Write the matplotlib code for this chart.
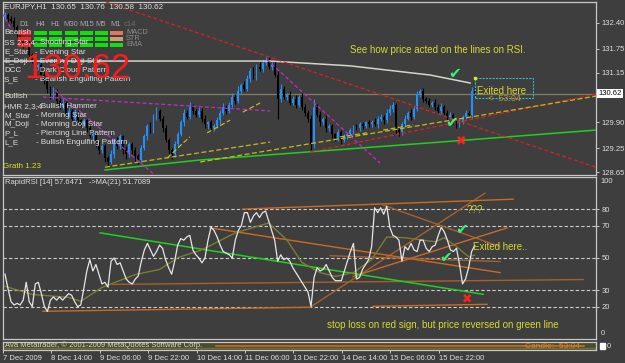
import numpy as np
import matplotlib
matplotlib.use("Agg")
import matplotlib.pyplot as plt
from matplotlib.patches import Rectangle
from matplotlib.transforms import blended_transform_factory

plt.rcParams.update({
    "font.family": ["Liberation Sans", "DejaVu Sans"],
    "font.size": 5.5,
})

# ------------------------------------------------------------
# Data
# ------------------------------------------------------------
first_open = 132.55
closes = np.array([
    132.60, 132.50, 132.45, 132.30, 132.15, 132.00, 131.85, 131.90, 131.60, 131.45,
    131.30, 131.35, 131.10, 130.95, 130.75, 130.55, 130.70, 130.45, 130.30, 130.40,
    130.10, 130.20, 130.00, 130.15, 129.95, 129.85, 129.95, 129.75, 129.55, 129.60,
    129.35, 129.20, 129.30, 129.00, 128.90, 129.10, 129.45, 129.30, 129.55, 129.20,
    129.10, 129.35, 129.20, 129.05, 128.95, 129.25, 129.55, 129.80, 129.70, 130.05,
    130.20, 130.00, 129.75, 129.45, 129.20, 129.10, 129.35, 129.60, 129.90, 130.15,
    130.05, 130.30, 130.20, 130.10, 130.20, 130.00, 129.85, 129.90, 129.75, 129.80,
    129.95, 130.15, 130.30, 130.20, 130.35, 130.55, 130.45, 130.70, 130.85, 130.75,
    131.00, 131.20, 131.05, 131.30, 131.25, 131.40, 131.45, 131.30, 131.35, 131.10,
    130.50, 130.75, 130.55, 130.60, 130.40, 130.50, 130.35, 130.55, 130.30, 130.15,
    130.00, 129.35, 130.30, 130.10, 129.90, 130.00, 129.75, 129.80, 129.60, 129.50,
    129.65, 129.45, 129.55, 129.60, 129.70, 129.80, 129.75, 129.85, 129.80, 129.90,
    129.85, 129.90, 129.85, 130.00, 130.05, 129.95, 130.15, 130.25, 130.35, 129.70,
    129.65, 129.85, 130.00, 130.15, 130.05, 130.25, 130.60, 130.70, 130.50, 130.45,
    130.35, 130.40, 130.30, 130.20, 130.30, 130.15, 130.05, 130.10, 129.95, 129.85,
    129.90, 130.05, 130.15, 130.10, 130.70, 130.62,
])
# wick lengths in pips (0.01)
wick_up = np.array([
    8, 5, 6, 10, 4, 7, 5, 12, 6, 5,
    8, 4, 6, 9, 5, 7, 10, 5, 6, 12,
    4, 8, 5, 9, 6, 4, 7, 5, 10, 6,
    4, 8, 6, 5, 7, 12, 6, 9, 5, 4,
    10, 7, 5, 8, 6, 9, 7, 5, 10, 6,
    8, 4, 6, 9, 5, 7, 8, 5, 6, 10,
    7, 12, 6, 5, 8, 6, 9, 4, 7, 5,
    8, 6, 10, 5, 7, 9, 6, 12, 5, 8,
    10, 6, 9, 7, 12, 6, 8, 10, 6, 9,
    8, 12, 7, 5, 9, 6, 8, 5, 10, 6,
    7, 8, 20, 6, 9, 5, 8, 7, 6, 4,
    8, 5, 7, 6, 5, 4, 6, 5, 7, 4,
    6, 5, 12, 6, 7, 5, 8, 10, 6, 4,
    5, 6, 8, 5, 9, 7, 8, 5, 6, 4,
    7, 5, 9, 6, 8, 5, 7, 6, 4, 6,
    8, 5, 6, 4, 9, 6,
])
wick_dn = np.array([
    6, 9, 5, 7, 10, 6, 8, 5, 12, 7,
    5, 9, 6, 8, 10, 6, 5, 9, 7, 6,
    12, 6, 8, 5, 9, 7, 6, 8, 5, 10,
    7, 9, 6, 10, 12, 5, 8, 6, 7, 10,
    12, 6, 8, 15, 9, 6, 5, 8, 6, 7,
    9, 6, 8, 5, 10, 12, 6, 7, 5, 8,
    6, 5, 9, 7, 6, 10, 8, 12, 6, 7,
    5, 8, 6, 9, 7, 5, 8, 6, 9, 7,
    6, 8, 5, 9, 6, 8, 5, 7, 9, 6,
    50, 8, 6, 9, 7, 6, 8, 7, 9, 8,
    10, 15, 8, 6, 9, 7, 10, 6, 8, 7,
    6, 9, 5, 7, 6, 8, 5, 7, 6, 5,
    7, 6, 5, 8, 6, 9, 7, 5, 8, 10,
    8, 6, 7, 5, 9, 6, 7, 5, 8, 6,
    7, 5, 8, 6, 9, 7, 8, 6, 9, 8,
    6, 5, 7, 6, 8, 5,
])

rsi = np.array([
    40, 31, 23, 21, 22, 21, 24, 35, 23, 20,
    34, 35, 28, 20, 17, 24, 26, 24, 26, 24,
    26, 28, 27, 23, 20, 21, 31, 42, 49, 42,
    46, 40, 34, 35, 32, 48, 50, 46, 47, 42,
    37, 35, 34, 37, 39, 48, 55, 59, 55, 51,
    54, 58, 56, 49, 44, 40, 48, 58, 62, 61,
    63, 64, 55, 52, 50, 47, 50, 61, 69, 67,
    63, 58, 54, 53, 52, 50, 61, 67, 70, 78,
    78, 72, 76, 78, 75, 78, 79, 73, 67, 61,
    48, 52, 49, 50, 48, 44, 41, 38, 35, 32,
    29, 20, 38, 44, 42, 43, 46, 42, 38, 36,
    36, 36, 42, 48, 54, 59, 37, 38, 43, 46,
    49, 57, 81, 78, 81, 77, 82, 69, 64, 63,
    61, 48, 57, 55, 59, 55, 54, 61, 61, 56,
    54, 57, 58, 64, 69, 66, 61, 55, 54, 56,
    46, 34, 37, 44, 54, 57.6471,
])
ma_bar = [0, 9, 21, 25, 32, 43, 51, 57, 65, 76, 87, 93, 98, 104, 109, 115,
          121, 126, 132, 142, 145, 149, 153, 155]
ma_val = [32.5, 27.5, 25.7, 23.3, 31.8, 39.8, 42.9, 50.2, 55.1, 65.5, 71.6, 61.2,
          47.2, 41.0, 38.6, 41.0, 49.0, 63.0, 62.5, 60.0, 62.5, 57.0, 50.8, 51.7089]

rsi_levels = [80, 70, 50, 30, 20]
price_ticks = [132.40, 131.75, 131.15, 129.90, 129.25, 128.65]
last_price = 130.62

time_tick_bars = [-1, 15, 31, 47, 63, 79, 95, 111, 127, 143]
time_tick_labels = ["7 Dec 2009", "8 Dec 14:00", "9 Dec 06:00", "9 Dec 22:00",
                    "10 Dec 14:00", "11 Dec 06:00", "13 Dec 22:00", "14 Dec 14:00",
                    "15 Dec 06:00", "15 Dec 22:00"]

# trend lines on price chart: (bars, prices)
price_ma_bar = [-1.65, 87.5, 113.9, 140.3, 153.5]
price_ma_val = [131.44, 131.44, 131.32, 131.09, 130.89]
red_lines = [([31.4, 195.0], [132.97, 128.78]),
             ([100.7, 195.0], [129.16, 130.61])]
yellow_lines = [([33.0, 87.5], [128.78, 129.41]),
                ([64.4, 195.0], [128.91, 130.56]),
                ([53.5, 61.0], [129.01, 129.54]),
                ([66.7, 74.3], [129.64, 129.96]),
                ([78.5, 84.2], [130.16, 130.39]),
                ([110.6, 119.5], [129.54, 129.64]),
                ([124.8, 134.7], [129.71, 129.84])]
magenta_lines = [([12.5, 87.5], [130.54, 130.19]),
                 ([16.5, 49.5], [130.71, 128.58]),
                 ([86.5, 123.8], [131.47, 128.88]),
                 ([-1.0, 2.3], [132.64, 132.22])]
green_price_bar = [33.0, 64.4, 140.3, 195.0]
green_price_val = [128.71, 128.96, 129.39, 129.71]

# trend lines on RSI
rsi_green = ([31.4, 157.8], [65.5, 27.6])
rsi_orange = [([12.5, 100.7], [17.1, 19.6]),
              ([100.7, 158.4], [19.6, 90.0]),
              ([121.5, 159.1], [20.2, 21.4]),
              ([35.6, 190.8], [33.7, 36.7]),
              ([78.5, 167.7], [80.2, 86.3]),
              ([124.8, 163.4], [82.7, 57.0]),
              ([67.7, 163.4], [68.6, 41.0]),
              ([107.3, 163.4], [51.4, 47.8]),
              ([114.9, 165.7], [38.6, 68.6])]

bearish_codes = ["SS 2,3,4", "E_Star", "E_Doji", "DCC", "S_E"]
bearish_names = ["- Shooting Star", "- Evening Star", "- Evening Doji Star",
                 "- Dark Cloud Pattern", "- Bearish Engulfing Pattern"]
bullish_codes = ["HMR 2,3,4", "M_Star", "M_Doji", "P_L", "L_E"]
bullish_names = ["- Bullish Hammer", "- Morning Star", "- Morning Doji Star",
                 "- Piercing Line Pattern", "- Bullish Engulfing Pattern"]
timeframes = ["D1", "H4", "H1", "M30", "M15", "M5", "M1"]
signal_rows = ["MACD", "STR", "EMA"]
signal_colors = [
    ["#ff2020", "#10e010", "#10e010", "#10e010", "#10e010", "#10e010", "#e07858"],
    ["#ff2020", "#10e010", "#10e010", "#10e010", "#10e010", "#10e010", "#c8a074"],
    ["#ff2020", "#10e010", "#10e010", "#10e010", "#10e010", "#10e010", "#10e010"],
]

# ------------------------------------------------------------
# Colors
# ------------------------------------------------------------
BG = "#3e3e3e"
FRAME = "#c8c8c8"
TXT = "#dedede"
YEL = "#d8d834"
UP = "#1e90ff"
DN = "#000000"
ORANGE = "#cc6a22"
SYM = ["DejaVu Sans"]

# ------------------------------------------------------------
# Layout (pixel boxes)
# ------------------------------------------------------------
W, H = 625, 363
fig = plt.figure(figsize=(W / 100, H / 100), dpi=100, facecolor=BG)


def px_axes(left, top, right, bottom):
    ax = fig.add_axes([left / W, 1 - bottom / H, (right - left) / W, (bottom - top) / H])
    ax.set_facecolor(BG)
    for s in ax.spines.values():
        s.set_color(FRAME)
        s.set_linewidth(0.9)
    return ax


xlim = (-0.66, 195.05)
ax_p = px_axes(3, 2, 596, 175)
ax_r = px_axes(3, 177, 596, 339)
ax_s = px_axes(3, 342, 596, 350)
for ax in (ax_p, ax_r, ax_s):
    ax.set_xlim(*xlim)
    ax.tick_params(axis="x", bottom=False, labelbottom=False)
    ax.tick_params(axis="y", left=False, labelleft=False)

# ------------------------------------------------------------
# Price panel
# ------------------------------------------------------------
bars = np.arange(len(closes))
opens = np.concatenate([[first_open], closes[:-1]])
highs = np.maximum(opens, closes) + wick_up / 100
lows = np.minimum(opens, closes) - wick_dn / 100
colors = np.where(closes >= opens, UP, DN)

ax_p.vlines(bars, lows, highs, colors=colors, linewidth=0.8, zorder=2)
body = np.maximum(np.abs(closes - opens), 0.012)
ax_p.bar(bars, body, bottom=np.minimum(opens, closes), width=0.62,
         color=colors, linewidth=0, zorder=2)

ax_p.set_ylim(128.584, 132.92)
ax_p.axhline(last_price, color="#7e7e60", linewidth=0.9, zorder=1)
ax_p.plot(price_ma_bar, price_ma_val, color="#d4d4cc", linewidth=1.1, zorder=3)
ax_p.plot(green_price_bar, green_price_val, color="#20d020", linewidth=1.1, zorder=3)
for xs, ys in red_lines:
    ax_p.plot(xs, ys, color="#e02020", linewidth=0.9, linestyle=(0, (3, 2)), zorder=3)
for xs, ys in yellow_lines:
    ax_p.plot(xs, ys, color="#c8b818", linewidth=0.9, linestyle=(0, (4, 2)), zorder=3)
for xs, ys in magenta_lines:
    ax_p.plot(xs, ys, color="#c828c8", linewidth=0.9, linestyle=(0, (3, 2)), zorder=3)

ax_p.yaxis.tick_right()
ax_p.set_yticks(price_ticks)
ax_p.set_yticklabels([f"{v:.2f}" for v in price_ticks])
ax_p.tick_params(axis="y", right=True, labelright=True, length=2.5, width=0.7,
                 color=FRAME, labelcolor=TXT, labelsize=5.5, pad=1.5)
blend_p = blended_transform_factory(ax_p.transAxes, ax_p.transData)
ax_p.text(1.004, last_price, f"{last_price:.2f}", transform=blend_p, ha="left",
          va="center", fontsize=5.5, color="black", zorder=6,
          bbox=dict(boxstyle="square,pad=0.15", fc="white", ec="none"))

ax_p.text(113.9, 131.72, "See how price acted on the lines on RSI.", color=YEL,
          fontsize=7, ha="left", va="center", zorder=5)
ax_p.text(148.5, 131.14, "\u2714", color="#38f07a", fontsize=11, ha="center",
          va="center", zorder=5, family=SYM)
ax_p.text(147.5, 129.89, "\u2714", color="#38f07a", fontsize=11, ha="center",
          va="center", zorder=5, family=SYM)
ax_p.text(150.5, 129.44, "\u2716", color="#ff2020", fontsize=9, ha="center",
          va="center", zorder=5, family=SYM)
ax_p.add_patch(Rectangle((155.1, 130.51), 19.2, 0.51, fill=False, ec="#30b8c0",
                         lw=0.8, ls=(0, (2, 1)), zorder=5))
ax_p.plot([155.1], [131.02], marker="s", ms=2, color="#e8e020", zorder=6)
ax_p.text(155.8, 130.70, "Exited here", color=YEL, fontsize=7, ha="left",
          va="center", zorder=5)
ax_p.text(159.4, 130.50, "<  53:04", color="#d08a2a", fontsize=6.5, ha="left",
          va="center", zorder=5)

# ------------------------------------------------------------
# RSI panel
# ------------------------------------------------------------
ax_r.set_ylim(0, 100)
for lv in rsi_levels:
    ax_r.axhline(lv, color="#cfcfcf", linewidth=0.8, linestyle=(0, (3, 2)), zorder=1)
for i, (xs, ys) in enumerate(rsi_orange):
    ax_r.plot(xs, ys, color=ORANGE if i % 2 == 0 else "#a8602a", linewidth=1.0, zorder=2)
ax_r.plot(*rsi_green, color="#20d020", linewidth=1.1, zorder=3)
ax_r.plot(ma_bar, ma_val, color="#7c7c34", linewidth=1.0, zorder=3)
ax_r.plot(bars, rsi, color="#e6e6e6", linewidth=0.9, zorder=4)

ax_r.yaxis.tick_right()
ax_r.set_yticks(rsi_levels)
ax_r.set_yticklabels([str(v) for v in rsi_levels])
ax_r.tick_params(axis="y", right=True, labelright=True, length=2.5, width=0.7,
                 color=FRAME, labelcolor=TXT, labelsize=5.5, pad=1.5)
blend_r = blended_transform_factory(ax_r.transAxes, ax_r.transData)
ax_r.text(1.008, 97.4, "100", transform=blend_r, color=TXT, fontsize=5.5,
          ha="left", va="center")
ax_r.text(1.008, 3.7, "0", transform=blend_r, color=TXT, fontsize=5.5,
          ha="left", va="center")

ax_r.text(0.003, 0.965, "RapidRSI [14] 57.6471   ->MA(21) 51.7089",
          transform=ax_r.transAxes, color=TXT, fontsize=5.5, ha="left", va="center")
ax_r.text(155.0, 79.6, "???", color=YEL, fontsize=7, ha="center", va="center", zorder=5)
ax_r.text(150.8, 67.9, "\u2714", color="#38f07a", fontsize=11, ha="center",
          va="center", zorder=5, family=SYM)
ax_r.text(145.5, 50.6, "\u2714", color="#38f07a", fontsize=11, ha="center",
          va="center", zorder=5, family=SYM)
ax_r.text(152.5, 24.7, "\u2716", color="#ff2020", fontsize=9, ha="center",
          va="center", zorder=5, family=SYM)
ax_r.text(154.5, 56.8, "Exited here..", color=YEL, fontsize=7, ha="left",
          va="center", zorder=5)
ax_r.text(106.3, 8.6, "stop loss on red sign, but price reversed on green line",
          color=YEL, fontsize=7, ha="left", va="center", zorder=5)

# ------------------------------------------------------------
# Thin bottom strip + time axis
# ------------------------------------------------------------
ax_s.set_facecolor("#4a4a2c")
ax_s.set_ylim(0, 1)
ax_s.axhline(0.5, xmin=0.36, xmax=0.98, color="#d2691e", linewidth=1.2)
ax_s.axhline(0.25, color="#6e6e3a", linewidth=1.0)
ax_s.text(0.003, 0.55, "Ava Metatrader, \u00a9 2001-2009 MetaQuotes Software Corp.",
          transform=ax_s.transAxes, color="#d8d8c8", fontsize=5.5, ha="left", va="center")
ax_s.text(0.88, 0.5, "Candle:  53:04", transform=ax_s.transAxes, color="#d08a2a",
          fontsize=6, ha="left", va="center")
ax_s.text(1.018, 0.5, "0", transform=ax_s.transAxes, color=TXT, fontsize=5.5,
          ha="left", va="center")
ax_s.add_patch(Rectangle((1.006, 0.1), 0.01, 0.8, transform=ax_s.transAxes,
                         color="white", clip_on=False))

ax_s.set_xticks(time_tick_bars)
ax_s.set_xticklabels(time_tick_labels)
ax_s.tick_params(axis="x", bottom=True, labelbottom=True, length=2.5, width=0.7,
                 color=FRAME, labelcolor=TXT, labelsize=5.5, pad=1.2)
for lab in ax_s.get_xticklabels():
    lab.set_horizontalalignment("left")

# ------------------------------------------------------------
# Overlay: chart header, signal table, pattern legend
# ------------------------------------------------------------
ov = fig.add_axes([0, 0, 1, 1], zorder=10)
ov.set_xlim(0, W)
ov.set_ylim(H, 0)
ov.axis("off")

ov.text(4, 6.5, "EURJPY,H1  130.65  130.76  130.58  130.62", color=TXT,
        fontsize=5.8, ha="left", va="center")

col_x = [24.5, 40, 55.5, 71, 86.5, 101, 116]
for tf, cx in zip(timeframes, col_x):
    ov.text(cx, 24, tf, color="#a8a8a8", fontsize=5.5, ha="center", va="center")
ov.text(130, 24, "c14", color="#6e6e6e", fontsize=5.5, ha="center", va="center")
for r, (name, row_cols) in enumerate(zip(signal_rows, signal_colors)):
    yc = 32.7 + 6 * r
    for cx, c in zip(col_x, row_cols):
        ov.add_patch(Rectangle((cx - 6.5, yc - 2), 13, 4, color=c, lw=0))
    ov.text(126, yc, name, color="#8c8c8c", fontsize=5.3, ha="left", va="center")

ov.text(4, 33, "Bearish", color=TXT, fontsize=5.8, ha="left", va="center")
for k, (code, name) in enumerate(zip(bearish_codes, bearish_names)):
    y = 43 + 9.1 * k
    ov.text(4, y, code, color=TXT, fontsize=5.8, ha="left", va="center")
    ov.text(35, y, name, color=TXT, fontsize=5.8, ha="left", va="center")
ov.text(4, 97, "Bullish", color=TXT, fontsize=5.8, ha="left", va="center")
for k, (code, name) in enumerate(zip(bullish_codes, bullish_names)):
    y = 106.5 + 9.1 * k
    ov.text(4, y, code, color=TXT, fontsize=5.8, ha="left", va="center")
    ov.text(36, y, name, color=TXT, fontsize=5.8, ha="left", va="center")

ov.text(24, 78, "130.62", color="#ff1a1a", fontsize=25, ha="left", va="baseline")
ov.text(3, 167, "Grath 1.23", color="#e0e020", fontsize=5.8, ha="left", va="center")

fig.savefig("out.png", dpi=100, facecolor=BG)
